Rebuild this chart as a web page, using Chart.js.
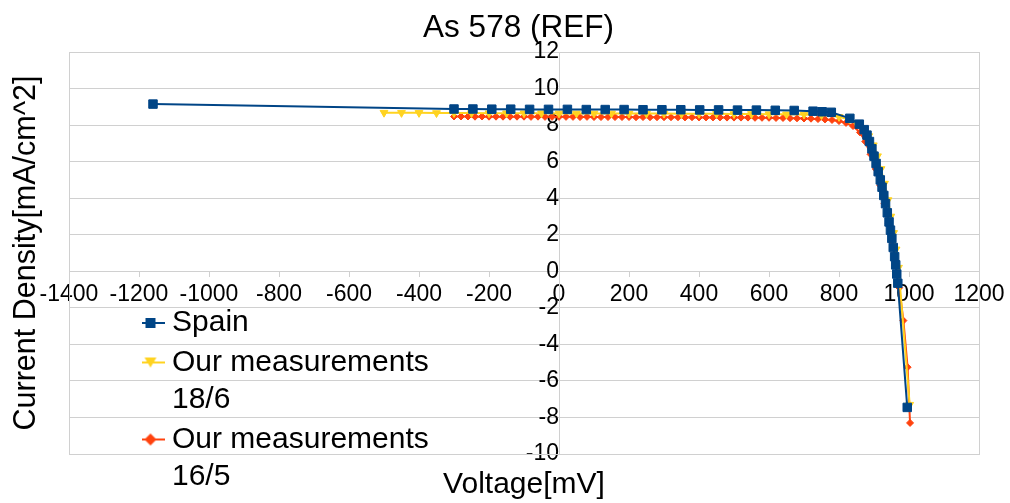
<!DOCTYPE html>
<html>
<head>
<meta charset="utf-8">
<title>As 578 (REF)</title>
<script src="https://cdn.jsdelivr.net/npm/chart.js@4.4.1/dist/chart.umd.min.js"></script>
<style>
    html, body { margin: 0; padding: 0; background: #fff; }
    #wrap { width: 1010px; height: 503px; }
</style>
</head>
<body>
<div id="wrap"><canvas id="ivChart"></canvas></div>
<script>
/* ------------------------------------------------------------------ */
/*  Data                                        */
/* ------------------------------------------------------------------ */

const SERIES_NAMES = ['Spain', 'Our measurements\n18/6', 'Our measurements\n16/5'];

// Spain : voltage (mV) / current density (mA/cm^2)
const SPAIN_V = [-1160, -300, -246, -192, -138, -84, -30, 24, 78, 132, 186, 240, 294, 348, 402,
    456, 510, 564, 618, 672, 726, 752, 778, 831, 858, 872, 880, 887, 894, 900, 906, 912, 918,
    923, 928, 933, 938, 943, 947, 951, 955, 959, 962, 965, 968, 995];
const SPAIN_J = [9.15, 8.88, 8.88, 8.87, 8.87, 8.86, 8.86, 8.86, 8.85, 8.85, 8.85, 8.84, 8.84, 8.84, 8.83,
    8.83, 8.82, 8.82, 8.81, 8.8, 8.76, 8.73, 8.7, 8.37, 8.05, 7.75, 7.45, 7.1, 6.7, 6.3, 5.9, 5.45, 5.0,
    4.6, 4.15, 3.7, 3.2, 2.7, 2.25, 1.8, 1.3, 0.8, 0.35, -0.15, -0.65, -7.45];

// Our measurements 18/6
const M186_V = [-500, -450, -400, -350, -300, -250, -200, -150, -100, -50, 0, 50, 100, 150, 200,
    250, 300, 350, 400, 450, 500, 550, 600, 650, 700, 750, 800, 830, 850, 870, 885, 898, 910,
    920, 930, 940, 948, 956, 963, 970, 1002];
const M186_J = [8.68, 8.67, 8.67, 8.66, 8.66, 8.66, 8.65, 8.65, 8.65, 8.65, 8.64, 8.64, 8.64, 8.64, 8.63,
    8.63, 8.63, 8.62, 8.62, 8.62, 8.61, 8.61, 8.6, 8.59, 8.58, 8.55, 8.45, 8.3, 8.1, 7.8, 7.4, 6.9, 6.3,
    5.6, 4.8, 3.9, 3.0, 2.1, 1.2, 0.2, -7.3];

// Our measurements 16/5
const M165_V = [-300, -280, -260, -240, -220, -200, -180, -160, -140, -120,
    -100, -80, -60, -40, -20, 0, 20, 40, 60, 80,
    100, 120, 140, 160, 180, 200, 220, 240, 260, 280,
    300, 320, 340, 360, 380, 400, 420, 440, 460, 480,
    500, 520, 540, 560, 580, 600, 620, 640, 660, 680,
    700, 720, 740, 760, 780,
    800, 820, 840, 860, 875, 890, 905, 918, 930, 942, 952, 962, 972, 984, 996, 1003];
const M165_J = [8.47, 8.47, 8.47, 8.46, 8.47, 8.46, 8.46, 8.46, 8.46, 8.46,
    8.46, 8.45, 8.46, 8.45, 8.45, 8.45, 8.45, 8.45, 8.44, 8.45,
    8.44, 8.44, 8.44, 8.44, 8.44, 8.44, 8.43, 8.44, 8.43, 8.43,
    8.43, 8.43, 8.43, 8.42, 8.43, 8.42, 8.42, 8.42, 8.42, 8.41,
    8.41, 8.41, 8.41, 8.4, 8.4, 8.4, 8.39, 8.39, 8.38, 8.37,
    8.36, 8.35, 8.33, 8.31, 8.28,
    8.22, 8.12, 7.95, 7.6, 7.1, 6.4, 5.6, 4.7, 3.7, 2.6, 1.6, 0.4, -0.9, -2.7, -5.25, -8.3];

// axes
const X_MIN = -1400, X_MAX = 1200, X_STEP = 200;
const Y_MIN = -10, Y_MAX = 12, Y_STEP = 2;

/* ------------------------------------------------------------------ */
/*  Styles                                                             */
/* ------------------------------------------------------------------ */

const FONT = "'Liberation Sans', Arial, sans-serif";
const GRID = '#d0d0d0';
const COLORS = ['#004586', '#ffd320', '#ff420e'];

function toPoints(xs, ys) {
    return xs.map((x, i) => ({ x: x, y: ys[i] }));
}

// small "line + marker" pictures for the legend
function makeLegendIcon(color, shape) {
    const c = document.createElement('canvas');
    c.width = 28;
    c.height = 14;
    const g = c.getContext('2d');
    g.strokeStyle = color;
    g.fillStyle = color;
    g.lineWidth = 2;
    g.beginPath();
    g.moveTo(0, 7);
    g.lineTo(28, 7);
    g.stroke();
    g.beginPath();
    if (shape === 'square') {
        g.rect(9, 2, 10, 10);
    } else if (shape === 'down') {
        g.moveTo(8, 2); g.lineTo(20, 2); g.lineTo(14, 12);
    } else {
        g.moveTo(14, 1); g.lineTo(20, 7); g.lineTo(14, 13); g.lineTo(8, 7);
    }
    g.closePath();
    g.fill();
    return c;
}

const LEGEND_ICONS = [
    makeLegendIcon(COLORS[0], 'square'),
    makeLegendIcon(COLORS[1], 'down'),
    makeLegendIcon(COLORS[2], 'diamond')
];

// legend sits over the lower-left part of the plot, title a bit right of centre
const boxPlacement = {
    id: 'boxPlacement',
    afterLayout(chart) {
        const lg = chart.legend;
        if (lg) {
            lg.left = 142;
            lg.top = 306;
            lg.right = 1010;
            lg.bottom = 503;
        }
        const tb = chart.titleBlock;
        if (tb) {
            tb.left = 27;
            tb.right = 1010;
        }
    }
};

/* ------------------------------------------------------------------ */
/*  Chart                                                              */
/* ------------------------------------------------------------------ */

const tickFont = { family: FONT, size: 23 };
const titleFont = { family: FONT, size: 30, weight: 'normal', lineHeight: 1.2 };

new Chart(document.getElementById('ivChart'), {
    type: 'scatter',
    data: {
        datasets: [
            {
                label: SERIES_NAMES[0],
                data: toPoints(SPAIN_V, SPAIN_J),
                showLine: true,
                borderColor: COLORS[0],
                backgroundColor: COLORS[0],
                borderWidth: 2,
                pointStyle: 'rect',
                pointRadius: 6,
                pointBorderWidth: 1
            },
            {
                label: SERIES_NAMES[1],
                data: toPoints(M186_V, M186_J),
                showLine: true,
                borderColor: COLORS[1],
                backgroundColor: COLORS[1],
                borderWidth: 2,
                pointStyle: 'triangle',
                rotation: 180,
                pointRadius: 4.5,
                pointBorderWidth: 1
            },
            {
                label: SERIES_NAMES[2],
                data: toPoints(M165_V, M165_J),
                showLine: true,
                borderColor: COLORS[2],
                backgroundColor: COLORS[2],
                borderWidth: 2,
                pointStyle: 'rectRot',
                pointRadius: 3.5,
                pointBorderWidth: 1
            }
        ]
    },
    options: {
        responsive: true,
        maintainAspectRatio: false,
        animation: false,
        layout: { padding: { left: 5, right: 31, top: 0, bottom: 0 } },
        elements: { line: { tension: 0 } },
        scales: {
            x: {
                type: 'linear',
                min: X_MIN,
                max: X_MAX,
                position: { y: 0 },
                ticks: {
                    stepSize: X_STEP, font: tickFont, color: '#000', maxRotation: 0, autoSkip: false, padding: 5,
                    callback: v => String(v)
                },
                grid: { drawOnChartArea: false, tickLength: 5, color: GRID },
                border: { color: GRID }
            },
            y: {
                type: 'linear',
                min: Y_MIN,
                max: Y_MAX,
                position: { x: 0 },
                ticks: { stepSize: Y_STEP, font: tickFont, color: '#000', padding: 6, callback: v => String(v) },
                grid: { color: GRID, tickLength: 5 },
                border: { color: GRID }
            },
            // left side: y title + left frame line
            yTitle: {
                type: 'linear',
                axis: 'y',
                position: 'left',
                ticks: { display: false },
                grid: { display: false, drawTicks: false },
                border: { display: true, color: GRID },
                title: {
                    display: true,
                    text: 'Current Density[mA/cm^2]',
                    color: '#000',
                    font: { family: FONT, size: 30.5, weight: 'normal', lineHeight: '36px' },
                    padding: { top: 4, bottom: 24 }
                }
            },
            // bottom: x title + bottom frame line
            xTitle: {
                type: 'linear',
                axis: 'x',
                position: 'bottom',
                ticks: { display: false },
                grid: { display: false, drawTicks: false },
                border: { display: true, color: GRID },
                title: {
                    display: true,
                    text: 'Voltage[mV]',
                    color: '#000',
                    font: titleFont,
                    padding: { top: 13, bottom: 0 }
                }
            },
            // right frame line
            rightEdge: {
                type: 'linear',
                axis: 'y',
                position: 'right',
                ticks: { display: false },
                grid: { display: false, drawTicks: false },
                border: { display: true, color: GRID }
            }
        },
        plugins: {
            title: {
                display: true,
                text: 'As 578 (REF)',
                color: '#000',
                font: { family: FONT, size: 31.5, weight: 'normal', lineHeight: '36px' },
                padding: { top: 10, bottom: 6 }
            },
            legend: {
                position: 'chartArea',
                align: 'start',
                labels: {
                    usePointStyle: true,
                    pointStyleWidth: 13,
                    padding: 2,
                    color: '#000',
                    font: { family: FONT, size: 30, lineHeight: 1.25 },
                    generateLabels(chart) {
                        return chart.data.datasets.map((ds, i) => ({
                            text: ds.label.split('\n'),
                            pointStyle: LEGEND_ICONS[i],
                            fillStyle: ds.borderColor,
                            strokeStyle: ds.borderColor,
                            fontColor: '#000',
                            lineWidth: 0,
                            hidden: false,
                            textAlign: 'left',
                            datasetIndex: i
                        }));
                    }
                }
            },
            tooltip: { enabled: false }
        }
    },
    plugins: [boxPlacement]
});
</script>
</body>
</html>
